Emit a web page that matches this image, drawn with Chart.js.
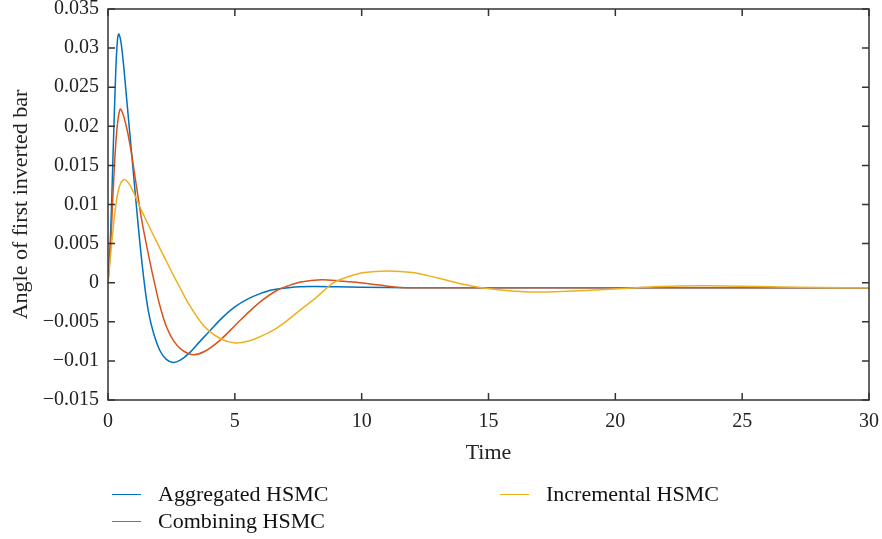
<!DOCTYPE html>
<html>
<head>
<meta charset="utf-8">
<script src="https://cdn.jsdelivr.net/npm/chart.js@4.4.0/dist/chart.umd.min.js"></script>
<style>
  body { margin: 0; background: #fff; }
  #wrap { position: relative; width: 882px; height: 539px; }
  #legend { position: absolute; left: 0; top: 0; font-family: "Liberation Serif", serif; font-size: 22px; color: #111; }
  .item { position: absolute; display: flex; align-items: center; white-space: nowrap; transform: translateY(-50%); }
  .swatch { width: 29px; height: 0; border-top: 1.6px solid; margin-right: 17px; }
</style>
</head>
<body>
<div id="wrap">
  <canvas id="chart" width="882" height="539"></canvas>
  <div id="legend"></div>
</div>
<script>
// series names + colours (MATLAB default order)
const seriesNames = ['Aggregated HSMC', 'Combining HSMC', 'Incremental HSMC'];
const seriesColors = ['#0072BD', '#D95319', '#EDB120'];

// Aggregated HSMC
const aggT = [0, 0.1, 0.2, 0.3, 0.36, 0.42, 0.5, 0.6, 0.75, 0.93, 1.1, 1.26, 1.43, 1.6, 1.8, 2.05, 2.3, 2.57, 2.85, 3.2, 3.6, 4.0, 4.5, 5.0, 5.5, 6.0, 6.5, 7.2, 8, 9, 10, 12, 15, 20, 25, 30];
const aggV = [0, 0.006, 0.0165, 0.0265, 0.0305, 0.0318, 0.0310, 0.0283, 0.0230, 0.0166, 0.0105, 0.0050, 0.0, -0.0038, -0.0065, -0.0087, -0.0098, -0.0102, -0.0099, -0.0090, -0.0076, -0.0062, -0.0045, -0.0031, -0.0021, -0.0014, -0.0009, -0.0006, -0.0005, -0.00052, -0.00058, -0.00064, -0.00065, -0.00065, -0.00065, -0.00065];

// Combining HSMC
const combT = [0, 0.1, 0.2, 0.3, 0.4, 0.5, 0.7, 0.89, 1.1, 1.33, 1.6, 1.83, 2.05, 2.3, 2.6, 2.95, 3.36, 3.8, 4.4, 5.0, 5.6, 6.1, 6.65, 7.1, 7.6, 8.4, 9.2, 9.93, 10.7, 11.5, 13, 15, 20, 25, 30];
const combV = [0, 0.0045, 0.0115, 0.0175, 0.0210, 0.0222, 0.0203, 0.0172, 0.0128, 0.0080, 0.0035, 0.0, -0.0030, -0.0056, -0.0075, -0.0087, -0.0092, -0.0088, -0.0074, -0.0055, -0.0036, -0.0022, -0.0010, -0.0004, 0.0001, 0.00038, 0.0002, 0.0, -0.0003, -0.0006, -0.00065, -0.00065, -0.00065, -0.00065, -0.00065];

// Incremental HSMC
const incT = [0, 0.1, 0.2, 0.3, 0.45, 0.63, 0.8, 1.0, 1.2, 1.4, 1.8, 2.2, 2.57, 2.8, 3.2, 3.8, 4.4, 5.0, 5.5, 6.0, 6.5, 7.0, 7.5, 8.2, 8.9, 9.5, 10.1, 11.0, 12.0, 13.0, 14.0, 14.66, 15.7, 16.8, 18.1, 19.4, 20.5, 21.5, 22.5, 23.5, 25, 26.5, 28, 30];
const incV = [0, 0.0035, 0.0068, 0.0097, 0.0123, 0.0132, 0.0128, 0.0116, 0.0101, 0.0087, 0.0060, 0.0034, 0.0010, -0.0004, -0.0028, -0.0056, -0.0071, -0.0077, -0.0075, -0.0069, -0.0061, -0.0050, -0.0037, -0.0019, 0.0, 0.0008, 0.0013, 0.0015, 0.0013, 0.0006, -0.0002, -0.0006, -0.0010, -0.0012, -0.0011, -0.0009, -0.0007, -0.00052, -0.00043, -0.0004, -0.00045, -0.00055, -0.00062, -0.00066];

const seriesT = [aggT, combT, incT];
const seriesV = [aggV, combV, incV];

// axis ranges / ticks
const xTicks = [0, 5, 10, 15, 20, 25, 30];
const yTicks = [-0.015, -0.01, -0.005, 0, 0.005, 0.01, 0.015, 0.02, 0.025, 0.03, 0.035];

const FONT = '"Liberation Serif", serif';
const AXIS = '#333';

// box round the plot + inward ticks on all four sides
const frameTicks = {
    id: 'frameTicks',
    afterDatasetsDraw(chart) {
        const { ctx, chartArea: a, scales: { x, y } } = chart;
        ctx.save();
        ctx.strokeStyle = AXIS;
        ctx.lineWidth = 1.5;
        ctx.strokeRect(a.left, a.top, a.right - a.left, a.bottom - a.top);
        ctx.beginPath();
        xTicks.forEach(v => {
            const px = x.getPixelForValue(v);
            ctx.moveTo(px, a.bottom); ctx.lineTo(px, a.bottom - 7);
            ctx.moveTo(px, a.top); ctx.lineTo(px, a.top + 7);
        });
        yTicks.forEach(v => {
            const py = y.getPixelForValue(v);
            ctx.moveTo(a.left, py); ctx.lineTo(a.left + 7, py);
            ctx.moveTo(a.right, py); ctx.lineTo(a.right - 7, py);
        });
        ctx.stroke();
        ctx.restore();
    }
};

const datasets = seriesNames.map((name, i) => ({
    label: name,
    data: seriesT[i].map((t, k) => ({ x: t, y: seriesV[i][k] })),
    borderColor: seriesColors[i],
    borderWidth: 1.5,
    pointRadius: 0,
    tension: 0.35,
    fill: false,
    order: seriesNames.length - i
}));

function fmtY(v) {
    const s = parseFloat(v.toFixed(3)).toString();
    return s.replace('-', '\u2212');
}

new Chart(document.getElementById('chart'), {
    type: 'line',
    data: { datasets },
    plugins: [frameTicks],
    options: {
        responsive: false,
        animation: false,
        layout: { padding: { top: 9, right: 13, left: 0, bottom: 73 } },
        plugins: { legend: { display: false }, tooltip: { enabled: false } },
        scales: {
            x: {
                type: 'linear', min: 0, max: 30,
                afterBuildTicks: s => { s.ticks = xTicks.map(v => ({ value: v })); },
                afterFit: s => { s.height = 66; s.paddingLeft = 0; s.paddingRight = 0; },
                grid: { display: false, drawTicks: false },
                border: { display: false },
                ticks: { padding: 10, color: '#222', font: { family: FONT, size: 20 }, maxRotation: 0 },
                title: { display: true, text: 'Time', color: '#222', font: { family: FONT, size: 22 }, padding: { top: 4, bottom: 0 } }
            },
            y: {
                type: 'linear', min: -0.015, max: 0.035,
                afterBuildTicks: s => { s.ticks = yTicks.map(v => ({ value: v })); },
                afterFit: s => { s.width = 108; s.paddingTop = 0; s.paddingBottom = 0; },
                grid: { display: false, drawTicks: false },
                border: { display: false },
                ticks: { padding: 9, color: '#222', font: { family: FONT, size: 20 }, callback: v => fmtY(v) },
                title: { display: true, text: 'Angle of first inverted bar', color: '#222', font: { family: FONT, size: 22 }, padding: { top: 8, bottom: 0 } }
            }
        }
    }
});

// legend laid out in two columns like the original
const legendSlots = [[112, 494], [112, 521], [500, 494]];
const legend = document.getElementById('legend');
seriesNames.forEach((name, i) => {
    const el = document.createElement('div');
    el.className = 'item';
    el.style.left = legendSlots[i][0] + 'px';
    el.style.top = legendSlots[i][1] + 'px';
    el.innerHTML = `<span class="swatch" style="border-color:${seriesColors[i]}"></span><span>${name}</span>`;
    legend.appendChild(el);
});
</script>
</body>
</html>
